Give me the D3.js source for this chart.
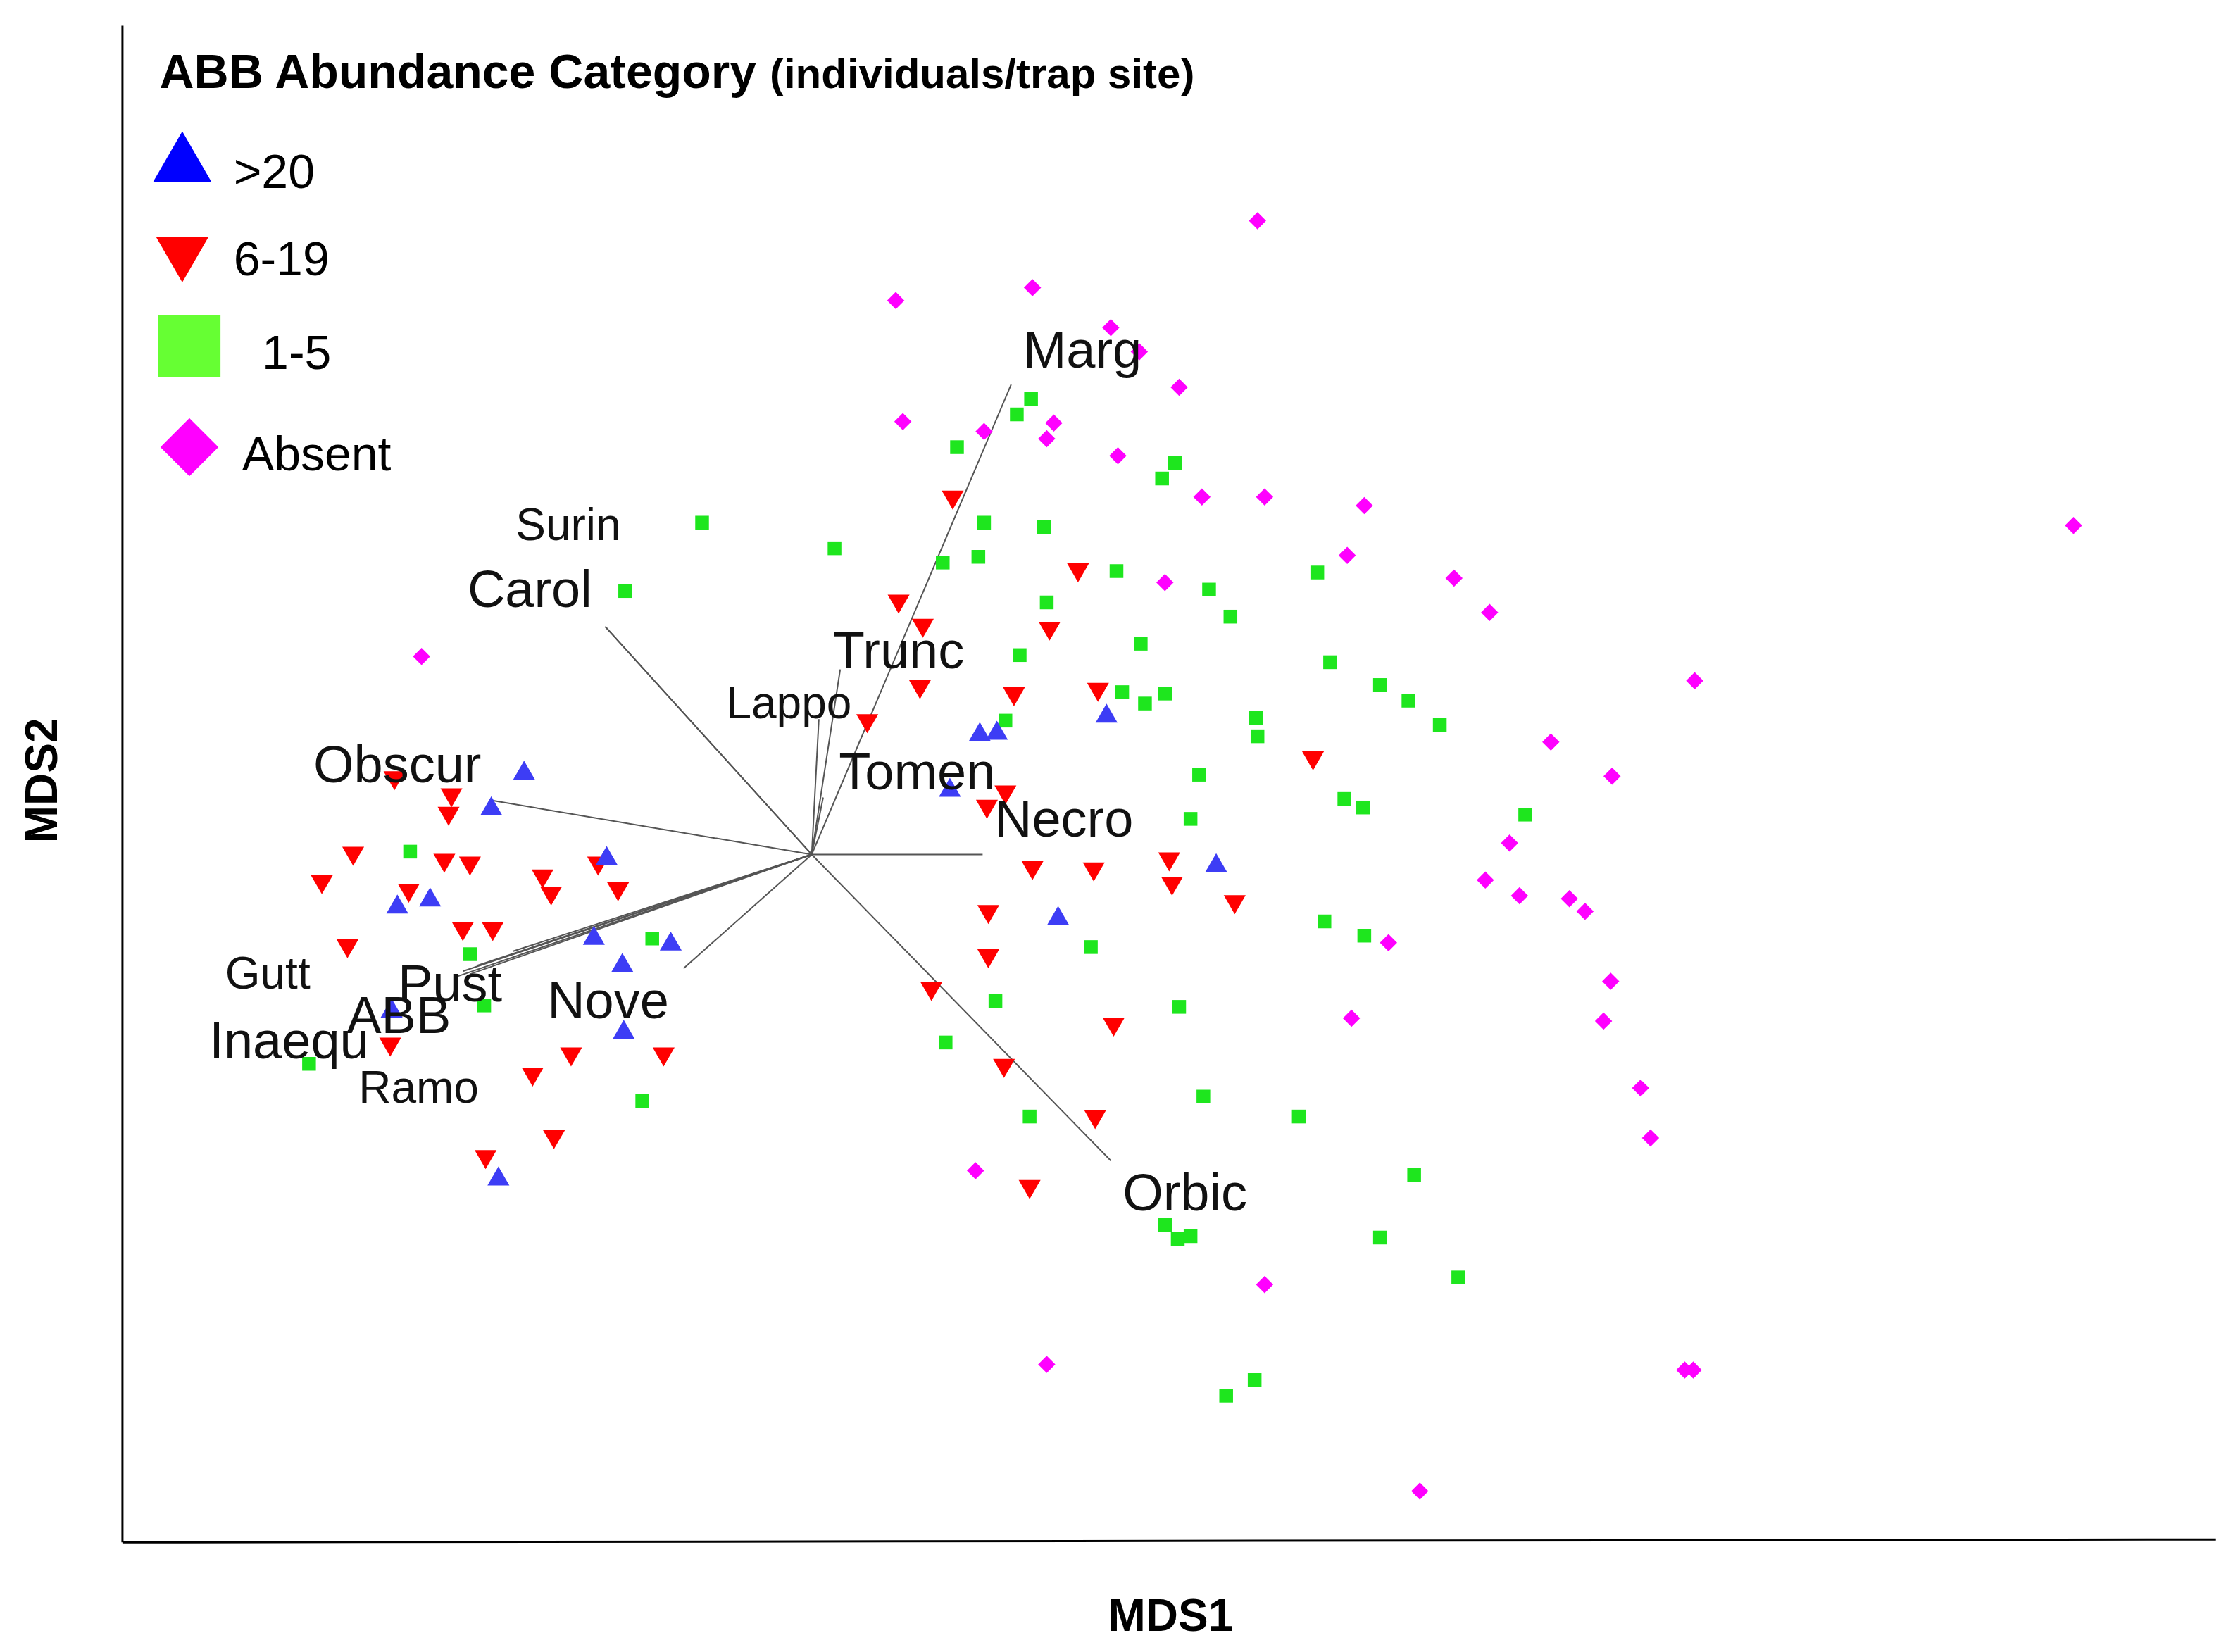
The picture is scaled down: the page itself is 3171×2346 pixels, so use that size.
<!DOCTYPE html>
<html><head><meta charset="utf-8">
<script src="https://cdn.jsdelivr.net/npm/d3@7"></script>
<style>body{margin:0;background:#fff}</style></head>
<body><svg id="c" width="3171" height="2346"></svg>
<script>
const absent=[[883,155],[629,211],[725,202],[780,230],[800,247],[828,272],[634,296],[691,303],[740,297],[735,308],[785,320],[844,349],[888,349],[958,355],[946,390],[818,409],[1021,406],[1046,430],[1456,369],[1190,478],[296,461],[1089,521],[1132,545],[1060,592],[1043,618],[1067,629],[1102,631],[1113,640],[975,662],[1131,689],[949,715],[1126,717],[1152,764],[1159,799],[685,822],[888,902],[735,958],[1183,962],[1189,962],[997,1047]];
const cat1to5=[[724,280],[714,291],[672,314],[825,325],[816,336],[493,367],[586,385],[691,367],[733,370],[662,395],[687,391],[784,401],[925,402],[439,415],[849,414],[864,433],[735,423],[801,452],[716,460],[934,465],[969,481],[788,486],[818,487],[804,494],[989,492],[882,504],[706,506],[1011,509],[883,517],[842,544],[944,561],[957,567],[836,575],[1071,572],[288,598],[930,647],[958,657],[766,665],[458,659],[330,670],[340,706],[699,703],[828,707],[664,732],[217,747],[451,773],[845,770],[912,784],[723,784],[993,825],[818,860],[827,870],[836,868],[969,869],[1024,897],[881,969],[861,980]];
const cat6to19=[[669,349],[757,400],[631,422],[648,439],[737,441],[646,482],[712,487],[771,484],[609,506],[922,532],[706,556],[693,566],[277,546],[317,558],[315,571],[248,599],[312,604],[330,606],[226,619],[287,625],[381,615],[387,627],[420,606],[434,624],[325,652],[346,652],[244,664],[725,609],[768,610],[821,603],[823,620],[867,633],[694,640],[694,671],[654,694],[782,719],[705,748],[401,740],[466,740],[374,754],[274,733],[769,784],[389,798],[341,812],[723,833]];
const cat20=[[368,543],[345,568],[688,516],[700,515],[777,503],[667,555],[426,603],[279,637],[302,632],[417,659],[471,663],[437,678],[854,608],[743,645],[438,725],[350,828],[275,710]];
const vecNames=["Marg","Carol","Surin","Trunc","Lappo","Tomen","Necro","Obscur","Nove","Pust","Gutt","ABB","Inaequ","Ramo","Orbic"];
const vecEnd=[[710,270],[425,440],[425,440],[590,470],[575,505],[578,560],[690,600],[345,562],[480,680],[360,668],[335,678],[325,682],[320,686],[330,684],[780,815]];
const vecLabel=[[760,245],[372,413],[399,368],[631,456],[554,493],[644,541],[747,574],[279,536],[427,702],[316,690],[188,683],[280,712],[203,730],[294,763],[832,837]];
const vecBig=[1,1,0,1,0,1,1,1,1,1,0,1,1,0,1];
const origin=[570,600];
const legendLabels=[">20","6-19","1-5","Absent"];

const svg=d3.select("#c");
const x=d3.scaleLinear().domain([0,1568]).range([0,3171]);
const y=d3.scaleLinear().domain([0,1160]).range([0,2346]);
const F="Liberation Sans, Arial, sans-serif";

svg.append("line").attr("x1",x(86)).attr("x2",x(86)).attr("y1",y(18)).attr("y2",y(1083)).attr("stroke","#000").attr("stroke-width",3);
svg.append("line").attr("x1",x(86)).attr("x2",x(1556)).attr("y1",y(1083)).attr("y2",y(1081)).attr("stroke","#000").attr("stroke-width",3);
svg.append("text").attr("x",x(822)).attr("y",y(1145)).attr("text-anchor","middle").attr("font-family",F).attr("font-weight","bold").attr("font-size",64).text("MDS1");
svg.append("text").attr("transform",`translate(${x(40)},${y(548)}) rotate(-90)`).attr("text-anchor","middle").attr("font-family",F).attr("font-weight","bold").attr("font-size",64).text("MDS2");

vecEnd.forEach((e,i)=>{svg.append("line").attr("x1",x(origin[0])).attr("y1",y(origin[1])).attr("x2",x(e[0])).attr("y2",y(e[1])).attr("stroke","#555").attr("stroke-width",2);});

const sq=d3.symbol().type(d3.symbolSquare).size(380);
const dia=d3.symbol().type(d3.symbolSquare).size(300);
const tri=d3.symbol().type(d3.symbolTriangle).size(420);
function pts(data,sym,col,rot){
  svg.append("g").selectAll("path").data(data).join("path").attr("d",sym).attr("fill",col)
   .attr("transform",d=>`translate(${x(d[0])},${y(d[1])}) rotate(${rot})`);
}
pts(absent,dia,"#ff00ff",45);
pts(cat1to5,sq,"#1ee61e",0);
pts(cat6to19,tri,"#ff0000",180);
pts(cat20,tri,"#3d3df5",0);

vecNames.forEach((n,i)=>{svg.append("text").attr("x",x(vecLabel[i][0])).attr("y",y(vecLabel[i][1])).attr("dy","0.36em").attr("text-anchor","middle").attr("font-family",F).attr("font-size",vecBig[i]?74:64).attr("fill","#111").text(n);});

const t=svg.append("text").attr("x",x(112)).attr("y",y(62)).attr("font-family",F).attr("font-weight","bold").attr("font-size",68);
t.append("tspan").text("ABB Abundance Category ");
t.append("tspan").attr("font-size",60).text("(individuals/trap site)");
const legSym=[d3.symbol().type(d3.symbolTriangle).size(3000),d3.symbol().type(d3.symbolTriangle).size(2400),d3.symbol().type(d3.symbolSquare).size(7800),d3.symbol().type(d3.symbolSquare).size(3400)];
const legCol=["#0000ff","#ff0000","#66ff33","#ff00ff"];
const legY=[116,177,243,314], legTx=[164,164,184,170], legRot=[0,180,0,45];
legendLabels.forEach((l,i)=>{
  svg.append("path").attr("d",legSym[i]).attr("fill",legCol[i]).attr("transform",`translate(${x(i>=2?133:128)},${y(legY[i])}) rotate(${legRot[i]})`);
  svg.append("text").attr("x",x(legTx[i])).attr("y",y(legY[i]+4)).attr("dy","0.36em").attr("font-family",F).attr("font-size",68).text(l);
});
</script></body></html>
